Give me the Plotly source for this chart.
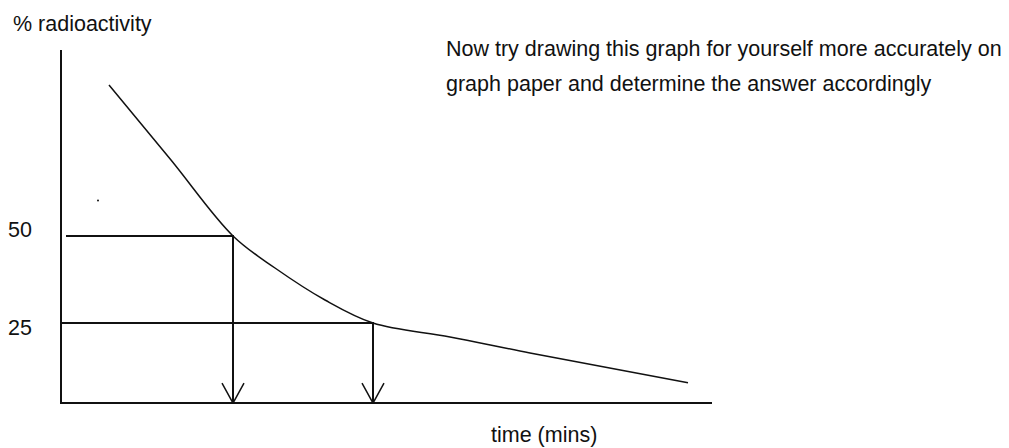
import plotly.graph_objects as go

# Decay curve (time in minutes, % radioactivity remaining)
time_mins = [2.4, 5.5, 8.6, 10.7, 13.2, 15.6, 19.45, 23.45, 31.35]
radioactivity = [93.4, 71.8, 50.0, 40.8, 31.6, 25.0, 21.0, 16.4, 7.8]

levels = [50, 25]
level_times = [8.6, 15.6]
level_labels = ["50", "25"]

# Extent of the sketched axes
axis_origin = (0.0, 2.0)
axis_x_end = 32.55
axis_y_end = 103.4

stray_dot = (1.85, 60.2)

INK = "#111111"
FONT = "Liberation Sans, Arial, sans-serif"
FONT_SIZE = 21.5

fig = go.Figure()

# y axis and x axis
fig.add_trace(go.Scatter(
    x=[axis_origin[0], axis_origin[0], axis_x_end],
    y=[axis_y_end, axis_origin[1], axis_origin[1]],
    mode="lines", line=dict(color=INK, width=2), hoverinfo="skip"))

# decay curve
fig.add_trace(go.Scatter(
    x=time_mins, y=radioactivity, mode="lines",
    line=dict(color=INK, width=1.5, shape="spline", smoothing=1.0),
    hoverinfo="skip"))

# guide lines from each level across to the curve and down to the time axis
starts = [0.25, 0.05]
head_dx, head_dy = 0.55, 5.75
for lvl, t, x0 in zip(levels, level_times, starts):
    fig.add_trace(go.Scatter(
        x=[x0, t, t], y=[lvl, lvl, axis_origin[1]],
        mode="lines", line=dict(color=INK, width=2), hoverinfo="skip"))
    fig.add_trace(go.Scatter(
        x=[t - head_dx, t, t + head_dx],
        y=[axis_origin[1] + head_dy, axis_origin[1], axis_origin[1] + head_dy],
        mode="lines", line=dict(color=INK, width=1.5), hoverinfo="skip"))

fig.add_trace(go.Scatter(
    x=[stray_dot[0]], y=[stray_dot[1]], mode="markers",
    marker=dict(color=INK, size=2), hoverinfo="skip"))

ann = []
ann.append(dict(x=-2.45, y=110.9, yref="y", text="% radioactivity",
                xanchor="left", yanchor="middle"))
for lbl, lvl, dy in zip(level_labels, levels, [1.7, -1.4]):
    ann.append(dict(x=-1.4, y=lvl + dy, yref="y", text=lbl,
                    xanchor="right", yanchor="middle"))
ann.append(dict(x=21.45, y=0, yref="paper", text="time (mins)",
                xanchor="left", yanchor="bottom"))
ann.append(dict(x=19.2, y=103.7, yref="y",
                text="Now try drawing this graph for yourself more accurately on",
                xanchor="left", yanchor="middle"))
ann.append(dict(x=19.2, y=93.7, yref="y",
                text="graph paper and determine the answer accordingly",
                xanchor="left", yanchor="middle"))
for a in ann:
    a.update(xref="x", showarrow=False, borderpad=0,
             font=dict(family=FONT, size=FONT_SIZE, color=INK))

fig.update_layout(
    width=1009, height=448, autosize=False,
    margin=dict(l=0, r=0, t=0, b=0),
    paper_bgcolor="white", plot_bgcolor="white",
    showlegend=False, annotations=ann,
    xaxis=dict(range=[-3.05, 47.4], visible=False, fixedrange=True),
    yaxis=dict(range=[-10.92, 117.8], visible=False, fixedrange=True),
)

fig.write_html("out.html", config=dict(displayModeBar=False))
